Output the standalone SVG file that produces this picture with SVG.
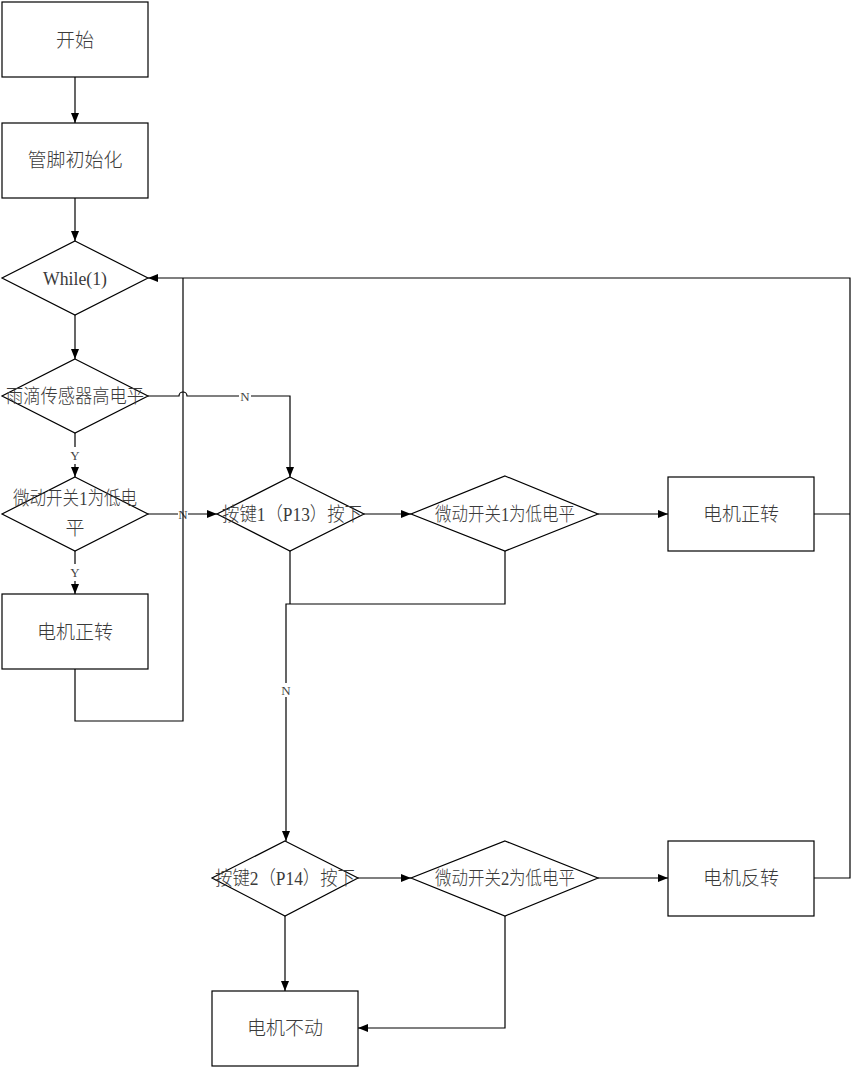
<svg xmlns="http://www.w3.org/2000/svg" width="860" height="1086" viewBox="0 0 860 1086">
<defs>
<marker id="ah" viewBox="0 0 10 10" refX="10" refY="5" markerWidth="10" markerHeight="10" markerUnits="userSpaceOnUse" orient="auto">
<path d="M0,1 L10,5 L0,9 Z" fill="#000"/>
</marker>
<style>
.n{fill:#fff;stroke:#000;stroke-width:1.2}
.c{fill:none;stroke:#000;stroke-width:1.2}
.t{font-family:"Liberation Serif","Noto Sans CJK SC",serif;font-size:19px;font-weight:300;fill:#3a3a3a;text-anchor:middle;dominant-baseline:central}
.l{font-family:"Liberation Serif","Noto Sans CJK SC",serif;font-size:13px;fill:#444;text-anchor:middle;dominant-baseline:central}
</style>
</defs>
<rect width="860" height="1086" fill="#fff"/>
<g id="connectors">
<path class="c" d="M75,77 V123" marker-end="url(#ah)"/>
<path class="c" d="M75,198 V241" marker-end="url(#ah)"/>
<path class="c" d="M75,315 V359" marker-end="url(#ah)"/>
<path class="c" d="M75,433 V447 M75,464 V477" marker-end="url(#ah)"/>
<text class="l" x="75" y="455">Y</text>
<path class="c" d="M75,551 V564 M75,581 V594" marker-end="url(#ah)"/>
<text class="l" x="75" y="572">Y</text>
<path class="c" d="M148,396 H179 A4,4 0 0 1 187,396 H239 M251,396 H290 V477" marker-end="url(#ah)"/>
<text class="l" x="245" y="396">N</text>
<path class="c" d="M148,514 H178 M188,514 H217" marker-end="url(#ah)"/>
<text class="l" x="183" y="514">N</text>
<path class="c" d="M75,669 V721 H183 V278"/>
<path class="c" d="M814,514 H850 M814,878 H850 V278 H148" marker-end="url(#ah)"/>
<path class="c" d="M364,514 H411" marker-end="url(#ah)"/>
<path class="c" d="M598,514 H668" marker-end="url(#ah)"/>
<path class="c" d="M290,551 V604 M505,551 V604 H286 V683 M286,697 V841" marker-end="url(#ah)"/>
<text class="l" x="286" y="690">N</text>
<path class="c" d="M358,878 H411" marker-end="url(#ah)"/>
<path class="c" d="M598,878 H668" marker-end="url(#ah)"/>
<path class="c" d="M285,916 V991" marker-end="url(#ah)"/>
<path class="c" d="M505,916 V1028 H358" marker-end="url(#ah)"/>
</g>
<g id="start"><rect class="n" x="2" y="2" width="146" height="75"/><text class="t" x="75" y="40">开始</text></g>
<g id="init"><rect class="n" x="2" y="123" width="146" height="75"/><text class="t" x="75" y="160">管脚初始化</text></g>
<g id="while"><polygon class="n" points="75,241 148,278 75,315 2,278"/><text class="t" x="75" y="278" style="font-size:19px" textLength="64" lengthAdjust="spacingAndGlyphs">While(1)</text></g>
<g id="rain"><polygon class="n" points="75,359 148,396 75,433 2,396"/><text class="t" x="75" y="396" textLength="138" lengthAdjust="spacingAndGlyphs">雨滴传感器高电平</text></g>
<g id="sw1a"><polygon class="n" points="75,477 148,514 75,551 2,514"/><text class="t" x="75" y="498" textLength="124" lengthAdjust="spacingAndGlyphs">微动开关1为低电</text><text class="t" x="75" y="528">平</text></g>
<g id="motorfwd1"><rect class="n" x="2" y="594" width="146" height="75"/><text class="t" x="75" y="632">电机正转</text></g>
<g id="key1"><polygon class="n" points="290,477 364,514 290,551 217,514"/><text class="t" x="292" y="514" textLength="140" lengthAdjust="spacingAndGlyphs">按键1（P13）按下</text></g>
<g id="sw1b"><polygon class="n" points="505,476 598,514 505,551 411,514"/><text class="t" x="505" y="514" textLength="140" lengthAdjust="spacingAndGlyphs">微动开关1为低电平</text></g>
<g id="motorfwd2"><rect class="n" x="668" y="477" width="146" height="74"/><text class="t" x="741" y="514">电机正转</text></g>
<g id="key2"><polygon class="n" points="285,841 358,878 285,916 212,878"/><text class="t" x="285" y="878" textLength="140" lengthAdjust="spacingAndGlyphs">按键2（P14）按下</text></g>
<g id="sw2"><polygon class="n" points="505,841 598,878 505,916 411,878"/><text class="t" x="505" y="878" textLength="140" lengthAdjust="spacingAndGlyphs">微动开关2为低电平</text></g>
<g id="motorrev"><rect class="n" x="668" y="841" width="146" height="75"/><text class="t" x="741" y="878">电机反转</text></g>
<g id="motorstop"><rect class="n" x="212" y="991" width="146" height="75"/><text class="t" x="285" y="1028">电机不动</text></g>
</svg>
